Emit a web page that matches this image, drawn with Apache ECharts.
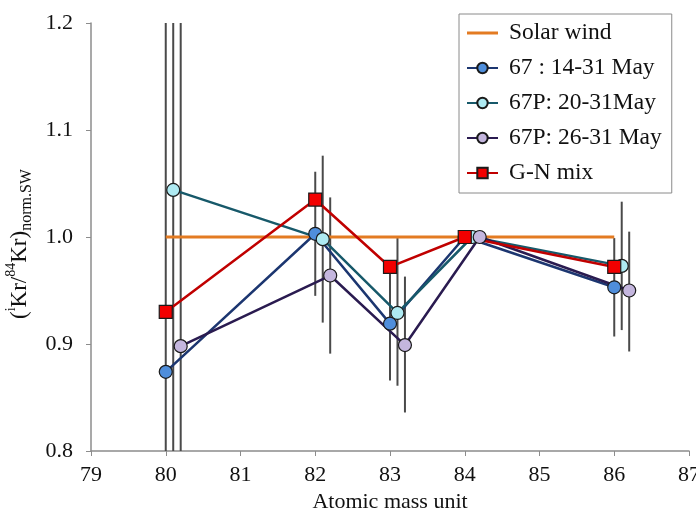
<!DOCTYPE html>
<html><head><meta charset="utf-8">
<script src="https://cdn.jsdelivr.net/npm/echarts@6/dist/echarts.min.js"></script>
<style>html,body{margin:0;padding:0;background:#fff}#c{width:696px;height:512px}</style>
</head><body><div id="c"></div>
<script>
// ---- data ----
const seriesNames = ['Solar wind', '67 : 14-31 May', '67P: 20-31May', '67P: 26-31 May', 'G-N mix'];
const solarWindX = [80, 86];
const solarWindY = [1.0, 1.0];
const massX = [80, 82, 83, 84, 86];
const xOffsets = [0, 0.1, 0.2, 0];            // horizontal offsets of the comet / mix series
const comet1431 = [0.874, 1.003, 0.919, 1.0, 0.953];
const comet2031 = [1.044, 0.998, 0.929, 1.0, 0.973];
const comet2631 = [0.898, 0.964, 0.899, 1.0, 0.950];
const gnMix = [0.930, 1.035, 0.972, 1.0, 0.972];
// error bars [x, low, high]
const err1431 = [[80, 0.60, 1.40], [82, 0.945, 1.061], [83, 0.866, 0.974], [86, 0.907, 0.999]];
const err2031 = [[80.1, 0.60, 1.40], [82.1, 0.920, 1.076], [83.1, 0.861, 0.999], [86.1, 0.913, 1.033]];
const err2631 = [[80.2, 0.60, 1.40], [82.2, 0.891, 1.037], [83.2, 0.836, 0.963], [86.2, 0.893, 1.005]];
const yTicks = [0.8, 0.9, 1.0, 1.1, 1.2];
const xTicks = [79, 80, 81, 82, 83, 84, 85, 86, 87];

const FONT = 'Liberation Serif';
function pts(ys, off) { return massX.map((x, i) => [+(x + off).toFixed(2), ys[i]]); }
function errSeries(data) {
  return {
    type: 'custom', data: data, z: 1, silent: true, legendHoverLink: false,
    renderItem: function (params, api) {
      const x = api.value(0);
      const p1 = api.coord([x, api.value(1)]);
      const p2 = api.coord([x, api.value(2)]);
      const cs = params.coordSys;
      const top = Math.max(cs.y, Math.min(p1[1], p2[1]));
      const bot = Math.min(cs.y + cs.height, Math.max(p1[1], p2[1]));
      return { type: 'line', shape: { x1: p1[0], y1: top, x2: p1[0], y2: bot },
        style: { stroke: '#4a4a4a', lineWidth: 2 } };
    }
  };
}
function lineSeries(name, data, lineColor, fill, symbol, size) {
  return {
    name: name, type: 'line', data: data, z: 3,
    symbol: symbol, symbolSize: size, showAllSymbol: true,
    lineStyle: { color: lineColor, width: 2.5 },
    itemStyle: { color: fill, borderColor: '#1a1a1a', borderWidth: 1.2 },
    emphasis: { disabled: true }
  };
}

const chart = echarts.init(document.getElementById('c'), null, { renderer: 'canvas' });
chart.setOption({
  animation: false,
  backgroundColor: '#fff',
  textStyle: { fontFamily: FONT },
  grid: { left: 91, right: 7, top: 23, bottom: 61, containLabel: false, outerBoundsMode: 'none' },
  legend: {
    orient: 'vertical', left: 459, top: 14,
    data: [{ name: seriesNames[0], icon: 'path://M0,0 L31,0 L31,3 L0,3 Z' }].concat(seriesNames.slice(1)),
    itemWidth: 31, itemHeight: 13, itemGap: 11,
    padding: [7, 10, 8, 7],
    borderColor: '#8a8a8a', borderWidth: 1, backgroundColor: '#fff',
    textStyle: { fontFamily: FONT, fontSize: 23.5, color: '#111', lineHeight: 24, padding: [0, 0, 0, 6] }
  },
  xAxis: {
    type: 'value', min: xTicks[0], max: xTicks[xTicks.length - 1], interval: 1,
    name: 'Atomic mass unit', nameLocation: 'middle', nameGap: 34,
    nameTextStyle: { fontFamily: FONT, fontSize: 22, color: '#111' },
    axisLine: { show: true, lineStyle: { color: '#8c8c8c', width: 1.5 } },
    axisTick: { show: true, length: 5, lineStyle: { color: '#8c8c8c' } },
    axisLabel: { fontFamily: FONT, fontSize: 22, color: '#111', margin: 13 },
    splitLine: { show: false }
  },
  yAxis: {
    type: 'value', min: yTicks[0], max: yTicks[yTicks.length - 1], interval: 0.1,
    name: '({sup|i}Kr/{sup|84}Kr){sub|norm.SW}', nameLocation: 'middle', nameGap: 48, nameRotate: 90,
    nameTextStyle: {
      fontFamily: FONT, fontSize: 23, color: '#111', padding: [0, 14, 0, 0],
      rich: {
        sup: { fontFamily: FONT, fontSize: 14, color: '#111', verticalAlign: 'top', lineHeight: 30 },
        sub: { fontFamily: FONT, fontSize: 16, color: '#111', verticalAlign: 'bottom', lineHeight: 30 }
      }
    },
    axisLine: { show: true, lineStyle: { color: '#8c8c8c', width: 1.5 } },
    axisTick: { show: true, length: 5, lineStyle: { color: '#8c8c8c' } },
    axisLabel: { fontFamily: FONT, fontSize: 22, color: '#111', margin: 18, formatter: v => v.toFixed(1) },
    splitLine: { show: false }
  },
  series: [
    errSeries(err1431), errSeries(err2031), errSeries(err2631),
    { name: seriesNames[0], type: 'line', data: solarWindX.map((x, i) => [x, solarWindY[i]]),
      symbol: 'none', z: 2, lineStyle: { color: '#e37b22', width: 3 }, itemStyle: { color: '#e37b22' },
      emphasis: { disabled: true } },
    lineSeries(seriesNames[1], pts(comet1431, xOffsets[0]), '#1c3670', '#4f8edb', 'circle', 13),
    lineSeries(seriesNames[2], pts(comet2031, xOffsets[1]), '#17596a', '#aeeaf2', 'circle', 13),
    lineSeries(seriesNames[3], pts(comet2631, xOffsets[2]), '#2a1b50', '#c4b6de', 'circle', 13),
    lineSeries(seriesNames[4], pts(gnMix, xOffsets[3]), '#c00000', '#f20000', 'rect', 13)
  ]
});
</script></body></html>
